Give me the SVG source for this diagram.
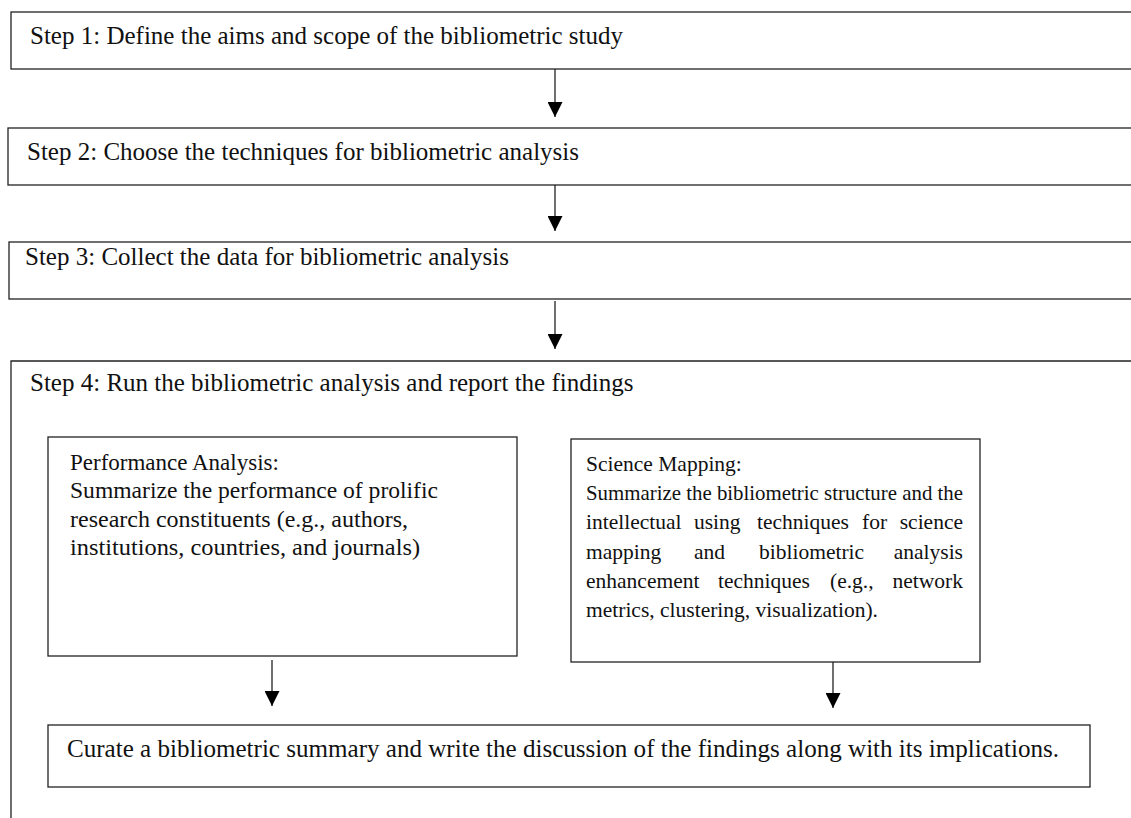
<svg xmlns="http://www.w3.org/2000/svg" width="1131" height="818" viewBox="0 0 1131 818">
<style>
.box{fill:#fff;stroke:#222;stroke-width:1.3}
.t{font-family:"Liberation Serif","Times New Roman",serif;font-size:25px;fill:#111}
.p{font-family:"Liberation Serif","Times New Roman",serif;font-size:23px;fill:#111}
.s{font-family:"Liberation Serif","Times New Roman",serif;font-size:21.5px;fill:#111}
.c{stroke:#222;stroke-width:1.3;fill:none}
</style>
<defs>
<marker id="ah" viewBox="0 0 10 10" refX="10" refY="5" markerWidth="15" markerHeight="15" markerUnits="userSpaceOnUse" orient="auto">
<path d="M0,0 L10,5 L0,10 z" fill="#000"/>
</marker>
</defs>
<rect width="1131" height="818" fill="#fff"/>
<g id="step1"><rect class="box" x="11" y="12" width="1140" height="57"/><text class="t" x="30" y="44" textLength="593" lengthAdjust="spacingAndGlyphs">Step 1: Define the aims and scope of the bibliometric study</text></g>
<g id="step2"><rect class="box" x="8" y="128" width="1140" height="57"/><text class="t" x="27" y="160">Step 2: Choose the techniques for bibliometric analysis</text></g>
<g id="step3"><rect class="box" x="9" y="242" width="1140" height="57"/><text class="t" x="25" y="265">Step 3: Collect the data for bibliometric analysis</text></g>
<g id="step4"><path class="c" d="M1140,361 H11 V830"/><text class="t" x="30" y="391">Step 4: Run the bibliometric analysis and report the findings</text></g>
<g id="perf"><rect class="box" x="48" y="437" width="469" height="219"/>
<text class="p" x="70" y="470">Performance Analysis:</text>
<text class="p" x="70" y="498" textLength="368" lengthAdjust="spacingAndGlyphs">Summarize the performance of prolific</text>
<text class="p" x="70" y="527" textLength="338" lengthAdjust="spacingAndGlyphs">research constituents (e.g., authors,</text>
<text class="p" x="70" y="555" textLength="350" lengthAdjust="spacingAndGlyphs">institutions, countries, and journals)</text></g>
<g id="science"><rect class="box" x="571" y="439" width="409" height="223"/>
<text class="s" x="586" y="471">Science Mapping:</text>
<text class="s" x="586" y="500" textLength="377" lengthAdjust="spacingAndGlyphs">Summarize the bibliometric structure and the</text>
<text class="s" y="529"><tspan x="586">intellectual</tspan><tspan x="694">using</tspan><tspan x="757">techniques</tspan><tspan x="862">for</tspan><tspan x="963" text-anchor="end">science</tspan></text>
<text class="s" y="559"><tspan x="586">mapping</tspan><tspan x="694">and</tspan><tspan x="759">bibliometric</tspan><tspan x="963" text-anchor="end">analysis</tspan></text>
<text class="s" y="588"><tspan x="586">enhancement</tspan><tspan x="718">techniques</tspan><tspan x="830">(e.g.,</tspan><tspan x="963" text-anchor="end">network</tspan></text>
<text class="s" x="586" y="617">metrics, clustering, visualization).</text></g>
<g id="curate"><rect class="box" x="48" y="725" width="1042" height="62"/>
<text class="t" x="67" y="757" textLength="992" lengthAdjust="spacingAndGlyphs">Curate a bibliometric summary and write the discussion of the findings along with its implications.</text></g>
<g id="connectors">
<line class="c" x1="555" y1="69" x2="555" y2="117" marker-end="url(#ah)"/>
<line class="c" x1="555" y1="185" x2="555" y2="231" marker-end="url(#ah)"/>
<line class="c" x1="555" y1="301" x2="555" y2="349" marker-end="url(#ah)"/>
<line class="c" x1="272" y1="660" x2="272" y2="706" marker-end="url(#ah)"/>
<line class="c" x1="833" y1="662" x2="833" y2="708" marker-end="url(#ah)"/>
</g>
</svg>
